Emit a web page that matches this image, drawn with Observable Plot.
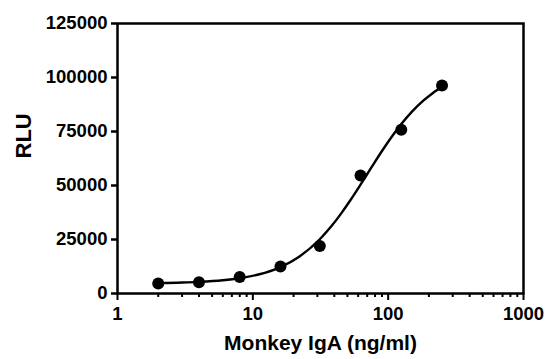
<!DOCTYPE html>
<html>
<head>
<meta charset="utf-8">
<script src="https://cdn.jsdelivr.net/npm/d3@7"></script>
<script src="https://cdn.jsdelivr.net/npm/@observablehq/plot@0.6"></script>
<style>
  html, body { margin: 0; padding: 0; background: #fff; }
  svg { display: block; }
</style>
</head>
<body>
<div id="chart"></div>
<script>
// Measured points
const concentrations = [2, 4, 8, 16, 31.25, 62.5, 125, 250];
const rlu = [4600, 5200, 7600, 12500, 22000, 54600, 75800, 96300];

// Fitted curve
const curveX = [2, 3, 4, 6, 8, 11, 16, 22, 31.25, 38, 45, 53, 62.5, 75, 90, 106, 125, 150, 180, 212, 250];
const curveY = [4840, 5080, 5380, 6130, 7080, 8780, 12230, 17040, 25130, 31100, 37110, 43530, 50430, 58240, 65970, 72460, 78450, 84200, 89040, 92610, 95560];

// Tick labels
const xMajorTicks = [1, 10, 100, 1000];
const xMinorTicks = [2, 3, 4, 5, 6, 7, 8, 9, 20, 30, 40, 50, 60, 70, 80, 90, 200, 300, 400, 500, 600, 700, 800, 900];
const yTicks = [0, 25000, 50000, 75000, 100000, 125000];

const xTitle = "Monkey IgA (ng/ml)";
const yTitle = "RLU";

const points = concentrations.map((x, i) => ({x, y: rlu[i]}));
const curve = curveX.map((x, i) => ({x, y: curveY[i]}));

const font = "'Liberation Sans', Arial, Helvetica, sans-serif";

const chart = Plot.plot({
  width: 548,
  height: 359,
  marginLeft: 117,
  marginRight: 25,
  marginTop: 23,
  marginBottom: 66,
  style: {fontFamily: font, background: "#fff", color: "#000"},
  x: {type: "log", domain: [1, 1000]},
  y: {domain: [0, 125000]},
  marks: [
    Plot.frame({stroke: "#000", strokeWidth: 2.5}),
    Plot.axisX(xMinorTicks, {tickSize: 4, text: null, stroke: "#000", strokeWidth: 2, label: null}),
    Plot.axisX(xMajorTicks, {tickSize: 7, tickPadding: 6, stroke: "#000", strokeWidth: 2, fontSize: 18.5, fontWeight: "bold", tickFormat: d => String(d), label: null}),
    Plot.axisY(yTicks, {tickSize: 6, tickPadding: 4, stroke: "#000", strokeWidth: 2.5, fontSize: 18.5, fontWeight: "bold", tickFormat: d3.format("d"), label: null}),
    Plot.line(curve, {x: "x", y: "y", stroke: "#000", strokeWidth: 2.4, curve: "monotone-x"}),
    Plot.dot(points, {x: "x", y: "y", r: 6, fill: "#000", stroke: "none"}),
    Plot.text([xTitle], {frameAnchor: "bottom", dy: 56, fontSize: 21, fontWeight: "bold", fill: "#000"}),
    Plot.text([yTitle], {frameAnchor: "left", dx: -94, rotate: -90, fontSize: 22, fontWeight: "bold", fill: "#000"})
  ]
});

document.getElementById("chart").appendChild(chart);
</script>
</body>
</html>
